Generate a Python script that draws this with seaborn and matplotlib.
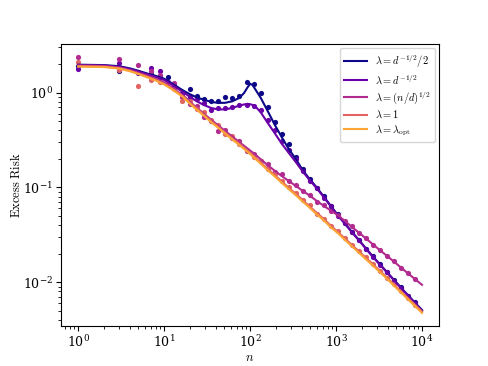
import numpy as np
import matplotlib
matplotlib.use("Agg")
import matplotlib.pyplot as plt
import seaborn as sns

plt.rcParams['mathtext.fontset'] = 'cm'
plt.rcParams['font.family'] = 'serif'

# x values of the theory curves
n_line = [1, 2, 3, 4, 5, 6.5, 8, 10, 12, 14, 17, 20, 24, 29, 35, 42, 51, 62, 75, 85, 93, 100,
          107, 116, 133, 160, 193, 233, 281, 339, 410, 494, 596, 720, 869, 1048, 1265, 1526,
          1842, 2223, 2683, 3237, 3907, 4715, 5690, 6866, 8286, 10000]

# theory curves
line_half = [1.97, 1.95, 1.90, 1.80, 1.70, 1.58, 1.50, 1.40, 1.27, 1.16, 1.04, 0.96, 0.89, 0.84,
             0.80, 0.78, 0.78, 0.81, 0.88, 0.99, 1.13, 1.24, 1.20, 1.07, 0.88, 0.64, 0.46, 0.34,
             0.255, 0.20, 0.152, 0.122, 0.100, 0.080, 0.064, 0.051, 0.042, 0.034, 0.028, 0.0228,
             0.0187, 0.0155, 0.0128, 0.0106, 0.0088, 0.0073, 0.0061, 0.0051]
line_d = [1.95, 1.93, 1.87, 1.77, 1.67, 1.55, 1.46, 1.36, 1.23, 1.12, 1.00, 0.90, 0.81, 0.74,
          0.69, 0.665, 0.665, 0.69, 0.73, 0.75, 0.76, 0.755, 0.74, 0.71, 0.62, 0.48, 0.375, 0.29,
          0.232, 0.186, 0.147, 0.119, 0.098, 0.079, 0.063, 0.0505, 0.0415, 0.0337, 0.0277, 0.0226,
          0.0185, 0.0153, 0.0127, 0.0105, 0.0087, 0.0072, 0.0060, 0.0050]
line_nd = [1.93, 1.91, 1.84, 1.73, 1.62, 1.50, 1.40, 1.28, 1.15, 1.04, 0.92, 0.80, 0.69, 0.60,
           0.52, 0.455, 0.395, 0.345, 0.30, 0.275, 0.258, 0.245, 0.234, 0.221, 0.198, 0.172, 0.150,
           0.132, 0.117, 0.104, 0.092, 0.082, 0.072, 0.064, 0.057, 0.051, 0.0443, 0.0384, 0.0334,
           0.0290, 0.0251, 0.0218, 0.0190, 0.0165, 0.0143, 0.0124, 0.0108, 0.0094]
line_one = [1.90, 1.88, 1.81, 1.70, 1.59, 1.46, 1.36, 1.24, 1.12, 1.02, 0.90, 0.78, 0.68, 0.585,
            0.505, 0.44, 0.38, 0.33, 0.288, 0.262, 0.245, 0.232, 0.219, 0.205, 0.183, 0.157, 0.135,
            0.116, 0.099, 0.086, 0.0735, 0.063, 0.054, 0.0465, 0.0395, 0.034, 0.029, 0.0248, 0.0212,
            0.0181, 0.0155, 0.0132, 0.0112, 0.0095, 0.0080, 0.0068, 0.0058, 0.0049]
line_opt = [1.88, 1.86, 1.79, 1.68, 1.57, 1.44, 1.34, 1.22, 1.10, 1.00, 0.88, 0.76, 0.66, 0.57,
            0.49, 0.43, 0.37, 0.32, 0.28, 0.255, 0.238, 0.225, 0.213, 0.199, 0.178, 0.152, 0.131,
            0.112, 0.096, 0.083, 0.071, 0.061, 0.052, 0.045, 0.038, 0.033, 0.028, 0.024, 0.0205,
            0.0175, 0.0150, 0.0128, 0.0109, 0.0092, 0.0078, 0.0066, 0.0056, 0.00475]

# simulated points
n_sim = [1, 3, 5, 7, 9, 11, 13, 16, 20, 24, 29, 35, 42, 51, 62, 75, 91, 110, 133, 160, 193, 233,
         281, 339, 410, 494, 596, 720, 869, 1048, 1265, 1526, 1842, 2223, 2683, 3237, 3907, 4715,
         5690, 6866, 8286]
sim_half = [1.92, 1.68, 1.64, 1.58, 1.45, 1.45, 1.15, 1.00, 1.09, 0.93, 0.86, 0.82, 0.81, 0.89,
            0.87, 0.91, 1.28, 1.23, 0.98, 0.71, 0.49, 0.37, 0.29, 0.21, 0.157, 0.124, 0.099, 0.081,
            0.064, 0.052, 0.042, 0.034, 0.0282, 0.0226, 0.0189, 0.0154, 0.0129, 0.0105, 0.0089,
            0.0072, 0.0062]
sim_d = [1.77, 2.03, 1.62, 1.80, 1.68, 1.30, 1.20, 0.97, 0.90, 0.86, 0.78, 0.65, 0.68, 0.68, 0.70,
         0.74, 0.74, 0.73, 0.65, 0.51, 0.40, 0.31, 0.25, 0.20, 0.15, 0.117, 0.099, 0.078, 0.064,
         0.050, 0.042, 0.0335, 0.0279, 0.0224, 0.0186, 0.0152, 0.0128, 0.0104, 0.0088, 0.0071,
         0.0061]
sim_nd = [2.39, 2.26, 1.97, 1.68, 1.54, 1.28, 1.25, 0.90, 0.75, 0.72, 0.55, 0.50, 0.39, 0.40, 0.33,
          0.31, 0.245, 0.225, 0.19, 0.178, 0.147, 0.137, 0.116, 0.106, 0.091, 0.083, 0.071, 0.065,
          0.056, 0.0515, 0.044, 0.0388, 0.0332, 0.0293, 0.0249, 0.022, 0.0189, 0.0167, 0.0142,
          0.0126, 0.0107]
sim_one = [2.08, 1.73, 1.18, 1.36, 1.30, 1.25, 1.10, 0.82, 0.82, 0.67, 0.62, 0.52, 0.46, 0.37,
           0.35, 0.29, 0.25, 0.21, 0.19, 0.155, 0.138, 0.118, 0.101, 0.088, 0.073, 0.065, 0.053,
           0.047, 0.039, 0.0345, 0.029, 0.025, 0.0212, 0.0183, 0.0154, 0.0133, 0.0111, 0.0096,
           0.0081, 0.0068, 0.0058]

labels = [r'$\lambda = d^{-1/2}/2$', r'$\lambda = d^{-1/2}$', r'$\lambda = (n/d)^{1/2}$',
          r'$\lambda = 1$', r'$\lambda = \lambda_{\rm opt}$']
colors = plt.cm.plasma(np.linspace(0, 0.8, 5))

lines = [line_half, line_d, line_nd, line_one, line_opt]
sims = [sim_half, sim_d, sim_nd, sim_one, None]

fig, ax = plt.subplots(figsize=(4.88, 3.66), dpi=100)
for lab, c, ln, sm in zip(labels, colors, lines, sims):
    if sm is not None:
        sns.scatterplot(x=n_sim, y=sm, color=c, s=14, linewidth=0, ax=ax, legend=False)
    sns.lineplot(x=n_line, y=ln, color=c, lw=1.5, label=lab, ax=ax)

ax.set_xscale('log')
ax.set_yscale('log')
ax.tick_params(labelsize=9, pad=2.5)
ax.set_xlabel(r'$n$', fontsize=9, labelpad=1)
ax.set_ylabel(r'$\mathrm{Excess\ Risk}$', fontsize=9, labelpad=0)
ax.legend(loc='upper right', fontsize=7.5, labelspacing=0.3, handlelength=2.2,
          borderaxespad=0.4)

fig.savefig('out.png', dpi=100)
